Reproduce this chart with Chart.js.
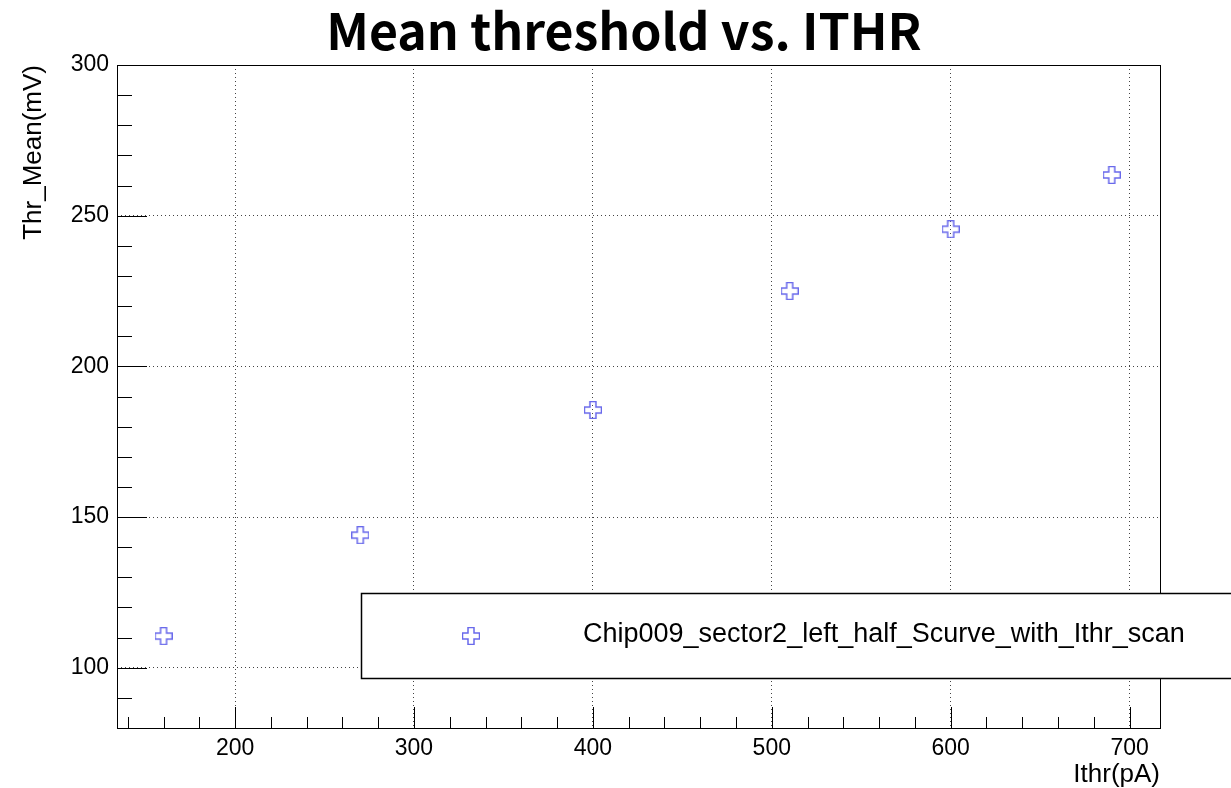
<!DOCTYPE html>
<html>
<head>
<meta charset="utf-8">
<script src="https://cdn.jsdelivr.net/npm/chart.js@4"></script>
<style>
  html, body { margin: 0; padding: 0; background: #fff; }
  #wrap { width: 1231px; height: 788px; }
</style>
</head>
<body>
<div id="wrap"><canvas id="c" width="1231" height="788"></canvas></div>
<script>
// data
const ithr = [160, 270, 400, 510, 600, 690];
const thrMean = [110.5, 144, 185.5, 225, 245.5, 263.5];
const xTicks = [200, 300, 400, 500, 600, 700];
const yTicks = [100, 150, 200, 250, 300];
const seriesName = "Chip009_sector2_left_half_Scurve_with_Ithr_scan";
const titleText = "Mean threshold vs. ITHR";
const xTitle = "Ithr(pA)";
const yTitle = "Thr_Mean(mV)";

const markerColor = "rgb(105,105,235)";

// open cross marker like ROOT's style 28
function makeCross(size) {
    const c = document.createElement("canvas");
    c.width = size; c.height = size;
    const g = c.getContext("2d");
    const a = size / 3;
    const p = [[a,0.5],[2*a,0.5],[2*a,a],[size-0.5,a],[size-0.5,2*a],[2*a,2*a],[2*a,size-0.5],[a,size-0.5],[a,2*a],[0.5,2*a],[0.5,a],[a,a]];
    g.beginPath();
    p.forEach((q, i) => i ? g.lineTo(q[0], q[1]) : g.moveTo(q[0], q[1]));
    g.closePath();
    g.strokeStyle = markerColor;
    g.lineWidth = 1.5;
    g.stroke();
    return c;
}
const cross = makeCross(18);

const font = "'Liberation Sans', Arial, sans-serif";

const rootPlugin = {
    id: "rootStyle",
    afterDatasetsDraw(chart) {
        const ctx = chart.ctx;
        const a = chart.chartArea;
        const xs = chart.scales.x, ys = chart.scales.y;
        ctx.save();
        ctx.strokeStyle = "#000";
        ctx.lineWidth = 1;
        ctx.strokeRect(a.left + 0.5, a.top + 0.5, a.right - a.left, a.bottom - a.top);

        // x ticks (inside, from bottom)
        ctx.beginPath();
        for (let v = 140; v <= xs.max; v += 20) {
            const px = Math.round(xs.getPixelForValue(v)) + 0.5;
            const len = v % 100 === 0 ? 21 : 11;
            ctx.moveTo(px, a.bottom);
            ctx.lineTo(px, a.bottom - len);
        }
        // y ticks (inside, from left)
        for (let v = 90; v <= ys.max; v += 10) {
            const py = Math.round(ys.getPixelForValue(v)) + 0.5;
            const len = v % 50 === 0 ? 30 : 15;
            ctx.moveTo(a.left, py);
            ctx.lineTo(a.left + len, py);
        }
        ctx.stroke();

        // legend box
        ctx.fillStyle = "#fff";
        ctx.fillRect(361, 593, 880, 85);
        ctx.lineWidth = 1.5;
        ctx.strokeRect(361.5, 593.5, 880, 85);
        ctx.drawImage(cross, 471 - 9, 636 - 9);
        ctx.fillStyle = "#000";
        ctx.font = "27px " + font;
        ctx.textAlign = "left";
        ctx.textBaseline = "middle";
        ctx.fillText(seriesName, 583, 635);

        // axis titles
        ctx.font = "26px " + font;
        ctx.textAlign = "right";
        ctx.textBaseline = "alphabetic";
        ctx.fillText(xTitle, a.right, 782);
        ctx.save();
        ctx.translate(41, a.top);
        ctx.rotate(-Math.PI / 2);
        ctx.fillText(yTitle, 0, 0);
        ctx.restore();

        // title
        ctx.font = "bold 50px 'Noto Sans CJK SC', 'Noto Sans', sans-serif";
        ctx.textAlign = "center";
        ctx.textBaseline = "middle";
        ctx.fillText(titleText, 624, 31);
        ctx.restore();
    }
};

new Chart(document.getElementById("c"), {
    type: "scatter",
    data: {
        datasets: [{
            label: seriesName,
            data: ithr.map((x, i) => ({ x: x, y: thrMean[i] })),
            pointStyle: cross,
            pointRadius: 9,
            clip: false
        }]
    },
    options: {
        responsive: false,
        animation: false,
        events: [],
        layout: { padding: { top: 65, right: 71, left: 0, bottom: 0 } },
        plugins: { legend: { display: false }, title: { display: false }, tooltip: { enabled: false } },
        scales: {
            x: {
                type: "linear",
                min: 134, max: 717,
                afterBuildTicks: s => { s.ticks = xTicks.map(v => ({ value: v })); },
                afterFit: s => { s.height = 60; },
                grid: { color: "#444", lineWidth: 1, drawTicks: false },
                border: { display: false, dash: [1, 3] },
                ticks: { color: "#000", font: { family: font, size: 23 }, padding: 7, maxRotation: 0 }
            },
            y: {
                type: "linear",
                min: 80, max: 300,
                afterBuildTicks: s => { s.ticks = yTicks.map(v => ({ value: v })); },
                afterFit: s => { s.width = 117; },
                grid: { color: "#444", lineWidth: 1, drawTicks: false },
                border: { display: false, dash: [1, 3] },
                ticks: { color: "#000", font: { family: font, size: 23 }, padding: 8 }
            }
        }
    },
    plugins: [rootPlugin]
});
</script>
</body>
</html>
